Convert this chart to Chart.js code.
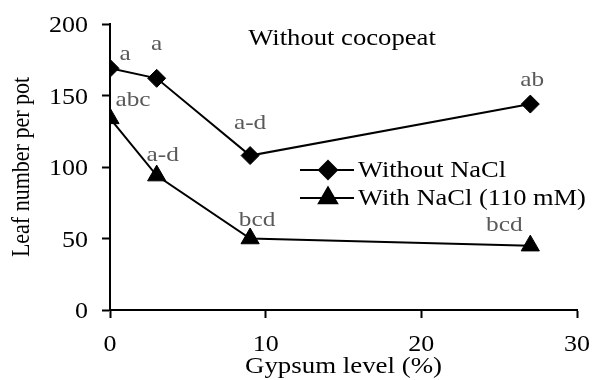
<!DOCTYPE html>
<html>
<head>
<meta charset="utf-8">
<script src="https://cdn.jsdelivr.net/npm/chart.js@4.4.1/dist/chart.umd.min.js"></script>
<style>
  html, body { margin: 0; padding: 0; background: #fff; }
  #wrap { width: 592px; height: 380px; }
</style>
</head>
<body>
<div id="wrap"><canvas id="chart" width="592" height="380"></canvas></div>
<script>
// Données
const gypsum = [0, 3, 9, 27];
const withoutNaCl = [169, 162, 108, 144];
const withNaCl = [134, 94, 50, 45];
const lettersWithout = ['a', 'a', 'a-d', 'ab'];
const lettersWith = ['abc', 'a-d', 'bcd', 'bcd'];
const seriesNames = ['Without NaCl', 'With NaCl (110 mM)'];
const panelTitle = 'Without cocopeat';
const xTitle = 'Gypsum level (%)';
const yTitle = 'Leaf number per pot';
const xTicks = [0, 10, 20, 30];
const yTicks = [0, 50, 100, 150, 200];

// décalages des lettres (px) par rapport aux points
const offsetsWithout = [[15, -14], [0, -34], [0, -32], [2, -24]];
const offsetsWith = [[23, -18], [6, -20], [7, -18], [-26, -20]];

const serif = "'Liberation Serif', 'Times New Roman', serif";

const toPoints = (ys) => ys.map((y, i) => ({ x: gypsum[i], y: y }));

// texte étiré horizontalement (la figure d'origine est un peu élargie)
function wideText(ctx, txt, x, y, stretch) {
    ctx.save();
    ctx.translate(x, y);
    ctx.scale(stretch, 1);
    ctx.fillText(txt, 0, 0);
    ctx.restore();
}

// Plugin : textes des axes, lettres, titre du panneau et légende
const annotations = {
    id: 'annotations',
    afterDatasetsDraw(chart) {
        const ctx = chart.ctx;
        const xs = chart.scales.x;
        const ys = chart.scales.y;
        const area = chart.chartArea;
        ctx.save();

        // étiquettes des graduations
        ctx.fillStyle = '#000';
        ctx.font = `23px ${serif}`;
        ctx.textBaseline = 'alphabetic';
        ctx.textAlign = 'right';
        yTicks.forEach(v => wideText(ctx, String(v), 88, ys.getPixelForValue(v) + 8, 1.13));
        ctx.textAlign = 'center';
        xTicks.forEach(v => wideText(ctx, String(v), xs.getPixelForValue(v), 351, 1.13));

        // titres des axes
        ctx.font = `24px ${serif}`;
        wideText(ctx, xTitle, (area.left + area.right) / 2, 373, 1.12);
        ctx.save();
        ctx.translate(29, (area.top + area.bottom) / 2);
        ctx.scale(1.12, 1);
        ctx.rotate(-Math.PI / 2);
        ctx.font = `22px ${serif}`;
        ctx.fillText(yTitle, 0, 0);
        ctx.restore();

        // lettres de comparaison
        ctx.font = `22px ${serif}`;
        ctx.fillStyle = '#595959';
        ctx.textBaseline = 'middle';
        [[withoutNaCl, lettersWithout, offsetsWithout], [withNaCl, lettersWith, offsetsWith]].forEach(([vals, letters, offs]) => {
            vals.forEach((v, i) => {
                const px = xs.getPixelForValue(gypsum[i]) + offs[i][0];
                const py = ys.getPixelForValue(v) + offs[i][1];
                wideText(ctx, letters[i], px, py, 1.15);
            });
        });

        // titre du panneau
        ctx.fillStyle = '#000';
        ctx.font = `24px ${serif}`;
        ctx.textBaseline = 'alphabetic';
        wideText(ctx, panelTitle, 342, 45, 1.11);

        // légende
        const rows = [170, 198];
        chart.data.datasets.forEach((ds, i) => {
            const y = rows[i];
            ctx.strokeStyle = '#000';
            ctx.lineWidth = 2;
            ctx.beginPath();
            ctx.moveTo(300, y);
            ctx.lineTo(354, y);
            ctx.stroke();
            Chart.helpers.drawPoint(ctx, {
                pointStyle: ds.pointStyle,
                radius: ds.pointRadius,
                borderWidth: 1
            }, 328, y);
            ctx.fillStyle = '#000';
            ctx.font = `23px ${serif}`;
            ctx.textAlign = 'left';
            wideText(ctx, seriesNames[i], 358, y + 7, 1.15);
        });
        ctx.restore();
    }
};

Chart.defaults.font.family = serif;
Chart.defaults.color = '#000';

new Chart(document.getElementById('chart'), {
    type: 'line',
    data: {
        datasets: [{
            label: seriesNames[0],
            data: toPoints(withoutNaCl),
            borderColor: '#000',
            backgroundColor: '#000',
            borderWidth: 2,
            pointStyle: 'rectRot',
            pointRadius: 9,
            pointBorderWidth: 1,
            tension: 0
        }, {
            label: seriesNames[1],
            data: toPoints(withNaCl),
            borderColor: '#000',
            backgroundColor: '#000',
            borderWidth: 2,
            pointStyle: 'triangle',
            pointRadius: 10.5,
            pointBorderWidth: 1,
            tension: 0
        }]
    },
    options: {
        responsive: false,
        animation: false,
        events: [],
        layout: { padding: { top: 24, right: 15, left: 0, bottom: 0 } },
        plugins: {
            legend: { display: false },
            tooltip: { enabled: false }
        },
        scales: {
            x: {
                type: 'linear',
                min: 0,
                max: 30,
                afterBuildTicks: (s) => { s.ticks = xTicks.map(v => ({ value: v })); },
                afterFit: (s) => { s.height = 70; },
                grid: { drawOnChartArea: false, drawTicks: true, tickLength: 8, color: '#000', tickWidth: 2 },
                border: { color: '#000', width: 2 },
                ticks: { display: false }
            },
            y: {
                min: 0,
                max: 200,
                afterBuildTicks: (s) => { s.ticks = yTicks.map(v => ({ value: v })); },
                afterFit: (s) => { s.width = 110; },
                grid: { drawOnChartArea: false, drawTicks: true, tickLength: 8, color: '#000', tickWidth: 2 },
                border: { color: '#000', width: 2 },
                ticks: { display: false }
            }
        }
    },
    plugins: [annotations]
});
</script>
</body>
</html>
